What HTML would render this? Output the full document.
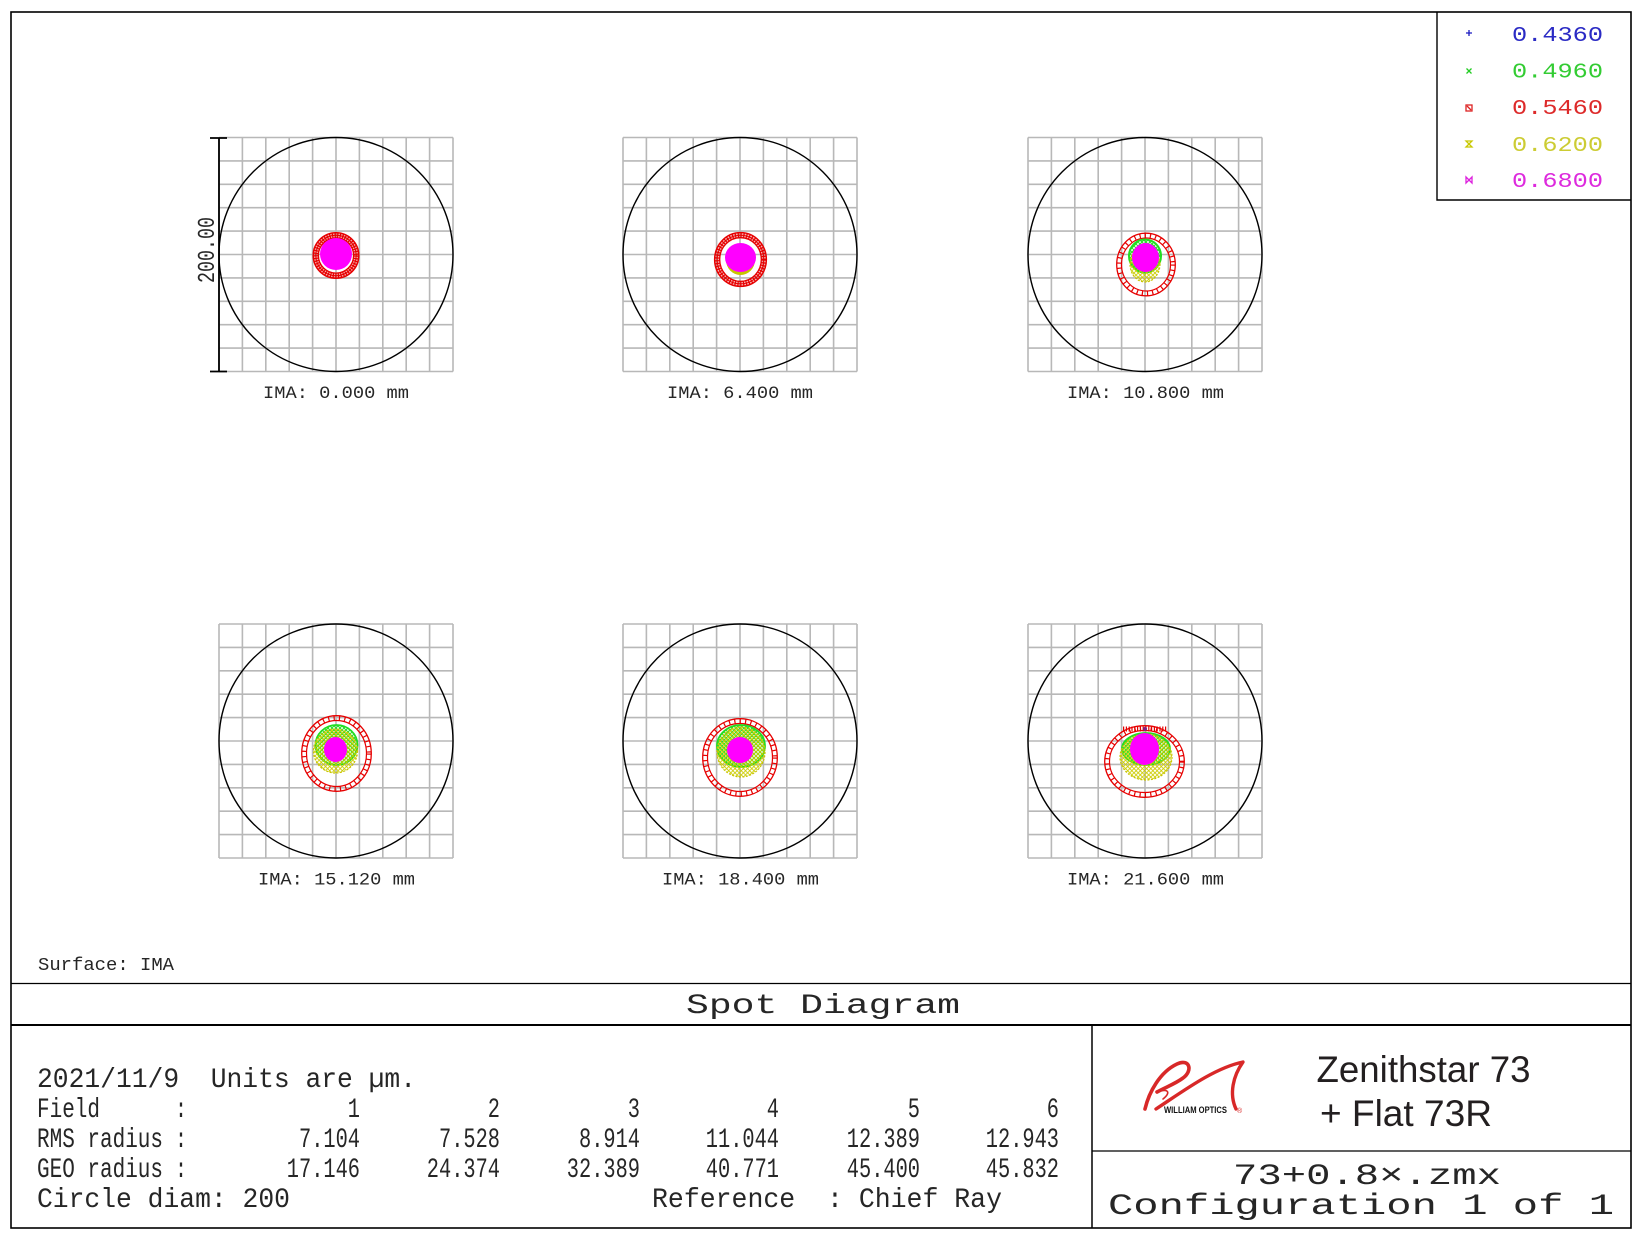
<!DOCTYPE html>
<html>
<head>
<meta charset="utf-8">
<style>
html,body{margin:0;padding:0;background:#fff;}
svg{display:block;}
text{font-family:"Liberation Mono",monospace;fill:#262626;}
.pre{white-space:pre;}
</style>
</head>
<body>
<svg width="1645" height="1240" viewBox="0 0 1645 1240" xmlns="http://www.w3.org/2000/svg">
<defs>
  <g id="grid">
    <path d="M-117,-117V117M-93.6,-117V117M-70.2,-117V117M-46.8,-117V117M-23.4,-117V117M0,-117V117M23.4,-117V117M46.8,-117V117M70.2,-117V117M93.6,-117V117M117,-117V117M-117,-117H117M-117,-93.6H117M-117,-70.2H117M-117,-46.8H117M-117,-23.4H117M-117,0H117M-117,23.4H117M-117,46.8H117M-117,70.2H117M-117,93.6H117M-117,117H117" fill="none" stroke="#b8b8b8" stroke-width="1.6"/>
    <circle cx="0" cy="0" r="117" fill="none" stroke="#000" stroke-width="1.4"/>
  </g>
  <pattern id="yh" width="4.2" height="4.2" patternUnits="userSpaceOnUse">
    <path d="M0,0L4.2,4.2M4.2,0L0,4.2" stroke="#cccc00" stroke-width="0.9"/>
  </pattern>
  <pattern id="gh" width="4" height="4" patternUnits="userSpaceOnUse">
    <path d="M0,0L4,4M4,0L0,4" stroke="#22e022" stroke-width="1"/>
  </pattern>
</defs>

<rect x="0" y="0" width="1645" height="1240" fill="#fff"/>

<!-- outer frame -->
<rect x="11" y="12" width="1620" height="1216" fill="none" stroke="#000" stroke-width="1.6"/>

<!-- legend -->
<path d="M1437,12V200H1631" fill="none" stroke="#000" stroke-width="1.4"/>
<g stroke-width="1.3" fill="none">
  <path d="M1466,33H1472M1469,30V36" stroke="#1a1ac0"/>
  <path d="M1466.5,68.5L1471.5,73.5M1471.5,68.5L1466.5,73.5" stroke="#22cc22"/>
  <rect x="1466" y="105" width="6" height="6" stroke="#dd2222"/>
  <path d="M1467,106L1471,110" stroke="#dd2222"/>
  <path d="M1466,141H1472L1466,147H1472Z" stroke="#c8c800"/>
  <path d="M1466,177V183L1472,177V183Z" stroke="#dd22dd"/>
</g>
<g font-size="21">
  <text x="1512" y="41" textLength="91" lengthAdjust="spacingAndGlyphs" style="fill:#2a2ac4">0.4360</text>
  <text x="1512" y="77.5" textLength="91" lengthAdjust="spacingAndGlyphs" style="fill:#3c3">0.4960</text>
  <text x="1512" y="114" textLength="91" lengthAdjust="spacingAndGlyphs" style="fill:#dd2a2a">0.5460</text>
  <text x="1512" y="151" textLength="91" lengthAdjust="spacingAndGlyphs" style="fill:#cc3">0.6200</text>
  <text x="1512" y="187" textLength="91" lengthAdjust="spacingAndGlyphs" style="fill:#dd2add">0.6800</text>
</g>

<!-- grids -->
<use href="#grid" transform="translate(336,254.5)"/>
<use href="#grid" transform="translate(740,254.5)"/>
<use href="#grid" transform="translate(1145,254.5)"/>
<use href="#grid" transform="translate(336,741)"/>
<use href="#grid" transform="translate(740,741)"/>
<use href="#grid" transform="translate(1145,741)"/>

<!-- scale bar -->
<path d="M219,138V371.5M210,138H227M210,371.5H227" fill="none" stroke="#000" stroke-width="1.8"/>
<text transform="translate(214,250) rotate(-90)" x="-33" y="0" font-size="24" textLength="66" lengthAdjust="spacingAndGlyphs">200.00</text>

<!-- ===== spots ===== -->
<!-- P1 -->
<g fill="none" stroke="#e60000">
  <circle cx="336" cy="255.5" r="20.2" stroke-width="6" stroke-opacity="0.35"/>
  <circle cx="336" cy="255.5" r="22.8" stroke-width="1.4"/>
  <circle cx="336" cy="255.5" r="17.6" stroke-width="1.3"/>
  <circle cx="336" cy="255.5" r="20.2" stroke-width="5.5" stroke-dasharray="1.2 1.4"/>
  <circle cx="336" cy="255.5" r="20.2" stroke-width="1"/>
</g>
<circle cx="336" cy="254" r="16" fill="#ff00ff"/>

<!-- P2 -->
<g fill="none" stroke="#e60000">
  <ellipse cx="740.5" cy="259.5" rx="23.3" ry="24.3" stroke-width="5.5" stroke-opacity="0.3"/>
  <ellipse cx="740.5" cy="259.5" rx="25.9" ry="26.9" stroke-width="1.4"/>
  <ellipse cx="740.5" cy="259.5" rx="20.8" ry="21.8" stroke-width="1.3"/>
  <ellipse cx="740.5" cy="259.5" rx="23.3" ry="24.3" stroke-width="5" stroke-dasharray="1.2 1.6"/>
  <ellipse cx="740.5" cy="259.5" rx="23.3" ry="24.3" stroke-width="1"/>
</g>
<ellipse cx="740.5" cy="260" rx="14.5" ry="15" fill="#c8c400"/>
<ellipse cx="740.5" cy="257.5" rx="15.5" ry="14.5" fill="#ff00ff"/>

<!-- P3 -->
<g fill="none" stroke="#e60000">
  <ellipse cx="1146" cy="264.5" rx="29.3" ry="31.3" stroke-width="1.3"/>
  <ellipse cx="1146" cy="264.5" rx="24.5" ry="26.5" stroke-width="1.2"/>
  <ellipse cx="1146" cy="264.5" rx="26.9" ry="28.9" stroke-width="4.8" stroke-dasharray="1.2 4"/>
</g>
<ellipse cx="1145" cy="256" rx="16" ry="16.5" fill="url(#gh)" stroke="#22dd22" stroke-width="2"/>
<ellipse cx="1145" cy="264" rx="15" ry="18" fill="url(#yh)" stroke="#c8c400" stroke-width="1.2" stroke-dasharray="2 1.5"/>
<ellipse cx="1145.5" cy="257.5" rx="13.5" ry="14.5" fill="#ff00ff"/>

<!-- P4 -->
<g fill="none" stroke="#e60000">
  <ellipse cx="336.5" cy="753.5" rx="34.8" ry="37.8" stroke-width="1.3"/>
  <ellipse cx="336.5" cy="753.5" rx="30" ry="33" stroke-width="1.2"/>
  <ellipse cx="336.5" cy="753.5" rx="32.4" ry="35.4" stroke-width="4.8" stroke-dasharray="1.2 4.2"/>
</g>
<ellipse cx="336.5" cy="745" rx="21" ry="20" fill="url(#gh)" stroke="#22dd22" stroke-width="1.8"/>
<ellipse cx="335.5" cy="751" rx="22" ry="22" fill="url(#yh)" stroke="#c8c400" stroke-width="1.2" stroke-dasharray="2 1.5"/>
<ellipse cx="335.5" cy="749.5" rx="11.5" ry="12.5" fill="#ff00ff"/>

<!-- P5 -->
<g fill="none" stroke="#e60000">
  <ellipse cx="740" cy="757.5" rx="37.3" ry="38.8" stroke-width="1.3"/>
  <ellipse cx="740" cy="757.5" rx="32.5" ry="34" stroke-width="1.2"/>
  <ellipse cx="740" cy="757.5" rx="34.9" ry="36.4" stroke-width="4.8" stroke-dasharray="1.2 4.2"/>
</g>
<ellipse cx="741" cy="746" rx="24" ry="21" fill="url(#gh)" stroke="#22dd22" stroke-width="1.8"/>
<ellipse cx="741" cy="752" rx="24" ry="25" fill="url(#yh)" stroke="#c8c400" stroke-width="1.2" stroke-dasharray="2 1.5"/>
<circle cx="740" cy="750" r="13" fill="#ff00ff"/>

<!-- P6 -->
<g fill="none" stroke="#e60000">
  <ellipse cx="1144.5" cy="761.5" rx="39.8" ry="35.8" stroke-width="1.3"/>
  <ellipse cx="1144.5" cy="761.5" rx="35" ry="31" stroke-width="1.2"/>
  <ellipse cx="1144.5" cy="761.5" rx="37.4" ry="33.4" stroke-width="4.8" stroke-dasharray="1.2 4.2"/>
  <path d="M1123,729H1167" stroke-width="5" stroke-dasharray="1.2 1.6"/>
</g>
<ellipse cx="1146" cy="749" rx="24" ry="16" fill="url(#gh)" stroke="#22dd22" stroke-width="1.8"/>
<ellipse cx="1146" cy="757" rx="26" ry="23" fill="url(#yh)" stroke="#c8c400" stroke-width="1.2" stroke-dasharray="2 1.5"/>
<ellipse cx="1144.5" cy="749" rx="14.5" ry="16" fill="#ff00ff"/>
<circle cx="1145" cy="729" r="2" fill="#802080"/>

<!-- IMA labels -->
<g font-size="17.5">
  <text x="263" y="398" textLength="146" lengthAdjust="spacingAndGlyphs">IMA: 0.000 mm</text>
  <text x="667" y="398" textLength="146" lengthAdjust="spacingAndGlyphs">IMA: 6.400 mm</text>
  <text x="1067" y="398" textLength="157" lengthAdjust="spacingAndGlyphs">IMA: 10.800 mm</text>
  <text x="258" y="884.5" textLength="157" lengthAdjust="spacingAndGlyphs">IMA: 15.120 mm</text>
  <text x="662" y="884.5" textLength="157" lengthAdjust="spacingAndGlyphs">IMA: 18.400 mm</text>
  <text x="1067" y="884.5" textLength="157" lengthAdjust="spacingAndGlyphs">IMA: 21.600 mm</text>
</g>

<text x="38" y="970" font-size="18" textLength="136" lengthAdjust="spacingAndGlyphs">Surface: IMA</text>

<!-- bottom panel lines -->
<path d="M11,983.5H1631" stroke="#000" stroke-width="1.3"/>
<path d="M11,1025H1631" stroke="#000" stroke-width="2"/>
<path d="M1092,1025V1228" stroke="#000" stroke-width="1.5"/>
<path d="M1092,1151H1631" stroke="#000" stroke-width="1.3"/>

<text x="686" y="1013" font-size="27.5" textLength="274" lengthAdjust="spacingAndGlyphs">Spot Diagram</text>

<!-- data table -->
<g font-size="27.5">
  <text class="pre" x="37" y="1087" textLength="379" lengthAdjust="spacingAndGlyphs">2021/11/9  Units are µm.</text>

  <text x="37" y="1117" textLength="63" lengthAdjust="spacingAndGlyphs">Field</text>
  <text x="175" y="1117" textLength="12" lengthAdjust="spacingAndGlyphs">:</text>
  <text x="347.8" y="1117" textLength="12.2" lengthAdjust="spacingAndGlyphs">1</text>
  <text x="487.8" y="1117" textLength="12.2" lengthAdjust="spacingAndGlyphs">2</text>
  <text x="627.8" y="1117" textLength="12.2" lengthAdjust="spacingAndGlyphs">3</text>
  <text x="766.8" y="1117" textLength="12.2" lengthAdjust="spacingAndGlyphs">4</text>
  <text x="907.8" y="1117" textLength="12.2" lengthAdjust="spacingAndGlyphs">5</text>
  <text x="1046.8" y="1117" textLength="12.2" lengthAdjust="spacingAndGlyphs">6</text>

  <text x="37" y="1147" textLength="126" lengthAdjust="spacingAndGlyphs">RMS radius</text>
  <text x="175" y="1147" textLength="12" lengthAdjust="spacingAndGlyphs">:</text>
  <text x="299" y="1147" textLength="61" lengthAdjust="spacingAndGlyphs">7.104</text>
  <text x="439" y="1147" textLength="61" lengthAdjust="spacingAndGlyphs">7.528</text>
  <text x="579" y="1147" textLength="61" lengthAdjust="spacingAndGlyphs">8.914</text>
  <text x="705.8" y="1147" textLength="73.2" lengthAdjust="spacingAndGlyphs">11.044</text>
  <text x="846.8" y="1147" textLength="73.2" lengthAdjust="spacingAndGlyphs">12.389</text>
  <text x="985.8" y="1147" textLength="73.2" lengthAdjust="spacingAndGlyphs">12.943</text>

  <text x="37" y="1177" textLength="126" lengthAdjust="spacingAndGlyphs">GEO radius</text>
  <text x="175" y="1177" textLength="12" lengthAdjust="spacingAndGlyphs">:</text>
  <text x="286.8" y="1177" textLength="73.2" lengthAdjust="spacingAndGlyphs">17.146</text>
  <text x="426.8" y="1177" textLength="73.2" lengthAdjust="spacingAndGlyphs">24.374</text>
  <text x="566.8" y="1177" textLength="73.2" lengthAdjust="spacingAndGlyphs">32.389</text>
  <text x="705.8" y="1177" textLength="73.2" lengthAdjust="spacingAndGlyphs">40.771</text>
  <text x="846.8" y="1177" textLength="73.2" lengthAdjust="spacingAndGlyphs">45.400</text>
  <text x="985.8" y="1177" textLength="73.2" lengthAdjust="spacingAndGlyphs">45.832</text>

  <text x="37" y="1207" textLength="253" lengthAdjust="spacingAndGlyphs">Circle diam: 200</text>
  <text class="pre" x="652" y="1207" textLength="350" lengthAdjust="spacingAndGlyphs">Reference  : Chief Ray</text>
</g>

<!-- logo -->
<g fill="none" stroke="#d82828" stroke-linecap="round" stroke-linejoin="round">
  <path d="M1145,1109 C1149,1092 1160,1072 1177,1064 C1190,1058 1193,1071 1183,1078 C1175,1084 1166,1087 1157,1092" stroke-width="3.6"/>
  <path d="M1158,1092 C1167,1088 1172,1092 1163,1099" stroke-width="1.6"/>
  <path d="M1156,1109 C1182,1092 1214,1068 1243,1062 C1233,1076 1229,1094 1236,1109" stroke-width="3.4"/>
</g>
<text x="1164" y="1113" font-size="9" textLength="63" lengthAdjust="spacingAndGlyphs" style="font-family:'Liberation Sans',sans-serif;font-weight:bold;fill:#111">WILLIAM OPTICS</text>
<text x="1237" y="1113" font-size="7" style="font-family:'Liberation Sans',sans-serif;fill:#d82828">®</text>

<text x="1316.5" y="1082" font-size="37" textLength="214" lengthAdjust="spacingAndGlyphs" style="font-family:'Liberation Sans',sans-serif;fill:#231f20">Zenithstar 73</text>
<text class="pre" x="1320" y="1126" font-size="37" textLength="172" lengthAdjust="spacingAndGlyphs" style="font-family:'Liberation Sans',sans-serif;fill:#231f20">+ Flat 73R</text>

<text x="1233" y="1184" font-size="30" textLength="268" lengthAdjust="spacingAndGlyphs">73+0.8×.zmx</text>
<text x="1108" y="1214" font-size="30" textLength="506" lengthAdjust="spacingAndGlyphs">Configuration 1 of 1</text>
</svg>
</body>
</html>
